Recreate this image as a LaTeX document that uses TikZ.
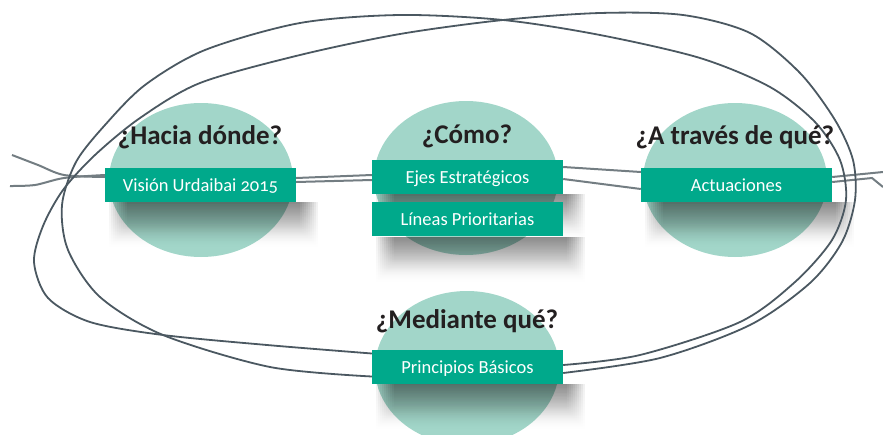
\documentclass[tikz,border=0pt]{standalone}
\usepackage{fontspec}
\setmainfont{Carlito}[Numbers=OldStyle]
\usetikzlibrary{shapes.geometric,fadings,positioning}
\definecolor{boxgreen}{HTML}{00A98B}
\definecolor{blobgreen}{HTML}{A2D6C9}
\definecolor{loopgrey}{HTML}{4B5861}
\definecolor{linkgrey}{HTML}{737D82}
\definecolor{titleblack}{HTML}{231F20}
\pgfdeclarelayer{bg}
\pgfdeclarelayer{mid}
\pgfsetlayers{bg,mid,main}

\begin{document}
\begin{tikzpicture}[x=1pt,y=-1pt,
    blob/.style={ellipse,fill=blobgreen,minimum width=184pt,minimum height=154pt,inner sep=0pt},
    box/.style={fill=boxgreen,text=white,minimum width=191pt,minimum height=34pt,inner sep=0pt,
        text height=16pt,text depth=3pt,font=\fontsize{18.5}{20}\selectfont},
    ask/.style={text=titleblack,anchor=base,font=\bfseries\fontsize{27}{30}\selectfont},
    loop/.style={draw=loopgrey,line width=1.8pt},
    link/.style={draw=linkgrey,line width=2pt}]
        \useasboundingbox (0,0) rectangle (883,434);
        % titles and boxes
        \node[ask] (qhacia) at (200,144) {¿Hacia dónde?};
        \node[ask] (qcomo) at (467,143) {¿Cómo?};
        \node[ask] (qtraves) at (735,144) {¿A través de qué?};
        \node[ask] (qmediante) at (467,328) {¿Mediante qué?};
        \node[box] (vis) at (200.5,185) {Visión Urdaibai 2015};
        \node[box] (ejes) at (467.5,177) {Ejes Estratégicos};
        \node[box,below=8pt of ejes] (lin) {Líneas Prioritarias};
        \node[box] (act) at (736.5,185) {Actuaciones};
        \node[box] (prin) at (467.5,366.5) {Principios Básicos};
        % circles
        \begin{pgfonlayer}{bg}
        \node[blob] (hacia) at (201,180) {};
        \node[blob] (como) at (466,178) {};
        \node[blob] (traves) at (735,180) {};
        \node[blob] (mediante) at (467,368) {};
        \end{pgfonlayer}
        % shadows, lines and loops
        \begin{pgfonlayer}{mid}
        \foreach \b in {vis,ejes,lin,act,prin}
            \foreach \g in {0,2,...,18}
                \fill[black,opacity=.06,path fading=south]
                    ([xshift=22pt-\g pt]\b.south west) rectangle ([xshift=4pt+\g pt,yshift=-28pt-\g pt]\b.south east);
        \coordinate (l1) at (12,155);
        \coordinate (l2) at (10,186);
        \coordinate (r1) at (883,172);
        \coordinate (r2) at (883,187);
        \draw[link] plot[smooth] coordinates {(l1) (38,165) (64,175) ([yshift=8pt]vis.west)};
        \draw[link] plot[smooth] coordinates {(l2) (35,185) (64,178) ([yshift=10pt]vis.west)};
        \draw[link] ([yshift=7pt]vis.east) -- ([yshift=2pt]ejes.west);
        \draw[link] ([yshift=3pt]vis.east) -- ([yshift=-3pt]ejes.west);
        \draw[link] ([yshift=10pt]ejes.east) -- ([yshift=13pt]act.west);
        \draw[link] ([yshift=-2pt]ejes.east) -- ([yshift=-4pt]act.west);
        \draw[link] ([yshift=8pt]act.east) -- (r1);
        \draw[link] ([yshift=3pt]act.east) -- (872,178) -- (r2);
        \draw[loop] plot[smooth,tension=.5] coordinates {([yshift=-10pt]prin.west) (270,367) (163,335)
            (100,297) (68,250) (62,205) (76,162) (105,125) (145,85) (205,50) (300,23) (400,15)
            (503,20) (600,35) (700,58) (770,87) (815,122) (840,160) (846,200) (832,240) (795,282)
            (740,322) (640,355) ([yshift=1.5pt]prin.east)};
        \draw[loop] plot[smooth,tension=.5] coordinates {([yshift=13pt]prin.west) (267,345) (163,335)
            (90,322) (48,298) (34,262) (43,226) (63,190) (95,155) (140,118) (200,83) (300,55)
            (400,34) (503,20) (600,13) (683,15) (750,33) (800,73) (835,120) (853,160) (855,200)
            (842,242) (810,283) (750,325) (660,358) ([yshift=-6.5pt]prin.east)};
        \end{pgfonlayer}
\end{tikzpicture}
\end{document}
